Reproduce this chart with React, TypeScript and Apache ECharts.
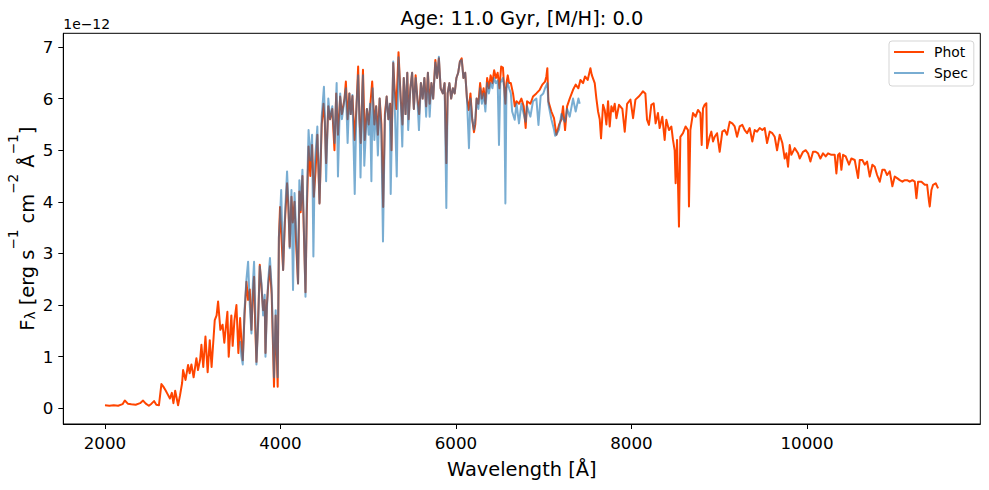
import React, { useEffect, useRef } from 'react';
import * as echarts from 'echarts';

// Photometric model spectrum: wavelength [Å] and flux [1e-12 erg s^-1 cm^-2 Å^-1]
const photWave = [
  2000, 2050, 2100, 2150, 2200, 2226, 2260, 2300, 2350, 2400,
  2434, 2465, 2500, 2530, 2559, 2585, 2615, 2643, 2665, 2690,
  2715, 2740, 2762, 2780, 2800, 2833, 2855, 2879, 2890, 2918,
  2947, 2965, 2985, 3010, 3042, 3060, 3085, 3099, 3120, 3145,
  3170, 3194, 3215, 3251, 3272, 3289, 3315, 3340, 3360, 3395,
  3410, 3440, 3455, 3475, 3498, 3520, 3540, 3555, 3570, 3590,
  3612, 3631, 3650, 3669, 3685, 3699, 3712, 3726, 3745, 3764,
  3785, 3802, 3820, 3829, 3845, 3859, 3880, 3900, 3926, 3945,
  3968, 3982, 3995, 4005, 4030, 4050, 4075, 4090, 4105, 4125,
  4140, 4160, 4175, 4200, 4215, 4230, 4250, 4265, 4285, 4300,
  4320, 4340, 4360, 4380, 4400, 4420, 4445, 4470, 4490, 4505,
  4520, 4545, 4565, 4590, 4615, 4635, 4655, 4680, 4700, 4730,
  4745, 4765, 4785, 4800, 4820, 4845, 4865, 4885, 4900, 4915,
  4930, 4940, 4960, 4985, 5005, 5025, 5045, 5070, 5090, 5110,
  5130, 5150, 5170, 5190, 5210, 5230, 5250, 5265, 5285, 5300,
  5320, 5345, 5370, 5390, 5405, 5425, 5445, 5460, 5480, 5500,
  5520, 5540, 5560, 5580, 5600, 5620, 5640, 5660, 5680, 5700,
  5720, 5740, 5765, 5785, 5805, 5825, 5850, 5870, 5890, 5905,
  5925, 5945, 5965, 5985, 6005, 6025, 6045, 6065, 6085, 6105,
  6125, 6145, 6165, 6185, 6205, 6220, 6235, 6255, 6275, 6295,
  6315, 6335, 6355, 6375, 6395, 6415, 6435, 6455, 6475, 6495,
  6515, 6535, 6550, 6563, 6575, 6590, 6605, 6625, 6650, 6670,
  6690, 6718, 6745, 6772, 6794, 6810, 6848, 6878, 6916, 6954,
  6984, 7015, 7030, 7041, 7053, 7087, 7117, 7144, 7174, 7201,
  7220, 7243, 7266, 7296, 7334, 7364, 7395, 7418, 7448, 7471,
  7501, 7532, 7547, 7581, 7600, 7619, 7638, 7653, 7676, 7695,
  7714, 7733, 7752, 7771, 7790, 7809, 7828, 7858, 7896, 7923,
  7950, 7988, 8018, 8045, 8083, 8113, 8130, 8158, 8177, 8199,
  8226, 8253, 8275, 8302, 8321, 8351, 8378, 8397, 8427, 8454,
  8473, 8492, 8503, 8519, 8541, 8557, 8587, 8617, 8644, 8655,
  8671, 8701, 8731, 8758, 8785, 8800, 8815, 8834, 8853, 8861,
  8891, 8910, 8929, 8948, 8975, 9005, 9035, 9062, 9089, 9119,
  9149, 9176, 9203, 9233, 9263, 9290, 9317, 9347, 9377, 9404,
  9431, 9461, 9491, 9518, 9545, 9575, 9605, 9632, 9659, 9689,
  9719, 9746, 9765, 9784, 9803, 9822, 9860, 9898, 9917, 9955,
  9985, 10012, 10039, 10069, 10099, 10126, 10153, 10183, 10213, 10240,
  10278, 10316, 10335, 10354, 10373, 10392, 10411, 10441, 10479, 10506,
  10544, 10582, 10601, 10631, 10658, 10685, 10715, 10745, 10772, 10799,
  10829, 10859, 10886, 10913, 10943, 10973, 11000, 11027, 11057, 11087,
  11114, 11141, 11171, 11201, 11228, 11247, 11266, 11304, 11342, 11369,
  11391, 11399, 11418, 11437, 11467, 11494,
];
const photFlux = [
  0.06, 0.05, 0.06, 0.05, 0.08, 0.15, 0.09, 0.08, 0.07, 0.10,
  0.15, 0.09, 0.05, 0.09, 0.14, 0.07, 0.06, 0.47, 0.42, 0.35,
  0.27, 0.19, 0.30, 0.10, 0.34, 0.06, 0.25, 0.49, 0.74, 0.55,
  0.84, 0.68, 0.85, 0.60, 0.97, 0.74, 0.95, 1.23, 0.80, 1.39,
  0.70, 1.32, 0.80, 1.71, 1.80, 2.07, 1.52, 1.62, 1.27, 1.87,
  1.00, 1.80, 1.21, 1.70, 2.00, 1.07, 1.75, 1.30, 0.93, 1.80,
  2.45, 2.10, 2.30, 1.52, 2.20, 2.55, 1.60, 0.90, 1.70, 2.78,
  2.30, 1.90, 2.10, 1.07, 2.00, 2.36, 2.75, 2.20, 0.42, 1.80,
  0.42, 3.30, 3.90, 3.50, 2.68, 3.60, 4.36, 3.90, 3.13, 4.10,
  3.60, 4.00, 3.30, 2.42, 4.20, 3.80, 4.50, 3.50, 2.25, 3.80,
  5.07, 4.50, 5.10, 4.10, 4.60, 5.30, 3.97, 5.50, 5.90, 5.55,
  4.75, 5.85, 5.60, 5.80, 5.00, 6.10, 5.30, 6.04, 5.70, 6.00,
  6.33, 5.60, 6.10, 5.70, 6.05, 5.20, 5.80, 6.62, 5.60, 5.14,
  6.00, 6.56, 5.20, 5.80, 5.50, 5.90, 6.33, 5.50, 5.85, 5.30,
  6.00, 5.50, 3.90, 5.70, 6.04, 5.60, 5.90, 5.00, 6.69, 6.20,
  5.80, 6.90, 6.00, 5.50, 6.40, 5.70, 6.50, 5.60, 6.20, 6.50,
  5.80, 6.45, 6.00, 5.70, 6.30, 6.00, 6.40, 5.85, 6.50, 5.90,
  6.30, 6.00, 6.75, 6.40, 6.78, 6.20, 6.10, 6.30, 4.75, 6.10,
  6.30, 6.00, 6.20, 6.10, 6.40, 6.50, 6.72, 6.78, 6.40, 6.50,
  6.00, 5.78, 6.10, 5.60, 5.35, 5.50, 6.00, 5.90, 6.30, 6.00,
  6.20, 5.90, 6.40, 6.20, 6.45, 6.30, 6.55, 6.40, 6.50, 6.20,
  6.62, 6.60, 6.20, 5.90, 6.30, 6.45, 6.30, 6.30, 6.10, 5.85,
  5.95, 5.90, 6.00, 5.85, 5.43, 5.95, 5.90, 6.04, 6.10, 6.17,
  6.27, 6.33, 6.43, 6.59, 5.95, 5.75, 5.62, 5.30, 5.49, 5.60,
  5.85, 5.39, 5.85, 6.00, 6.17, 6.27, 6.20, 6.36, 6.30, 6.43,
  6.36, 6.59, 6.46, 6.30, 6.00, 5.75, 5.60, 5.23, 5.88, 5.78,
  5.50, 5.95, 5.46, 5.85, 5.75, 5.90, 5.62, 5.88, 5.80, 5.36,
  5.90, 5.98, 5.62, 5.98, 6.04, 6.10, 6.14, 6.10, 5.59, 5.49,
  5.88, 5.91, 5.52, 5.72, 5.43, 5.65, 5.20, 5.59, 5.39, 5.46,
  5.20, 5.00, 4.36, 5.20, 3.52, 5.26, 5.33, 5.46, 5.39, 3.91,
  5.39, 5.72, 5.65, 5.78, 5.72, 5.10, 5.81, 5.88, 5.91, 5.04,
  5.26, 5.36, 5.17, 5.26, 5.33, 4.97, 5.36, 5.39, 5.30, 5.55,
  5.52, 5.46, 5.26, 5.46, 5.49, 5.39, 5.33, 5.43, 5.17, 5.39,
  5.36, 5.43, 5.39, 5.43, 5.14, 5.36, 5.33, 5.26, 5.00, 5.30,
  5.14, 4.84, 4.94, 4.68, 5.10, 4.91, 5.04, 4.94, 4.84, 4.97,
  5.00, 4.94, 4.78, 4.97, 4.97, 4.94, 4.84, 4.94, 4.88, 4.94,
  4.91, 4.91, 4.55, 4.91, 4.94, 4.62, 4.91, 4.88, 4.72, 4.84,
  4.81, 4.46, 4.81, 4.81, 4.72, 4.78, 4.49, 4.72, 4.68, 4.52,
  4.39, 4.62, 4.62, 4.52, 4.59, 4.30, 4.49, 4.46, 4.42, 4.39,
  4.42, 4.42, 4.39, 4.42, 4.39, 4.07, 4.39, 4.39, 4.33, 4.33,
  4.00, 3.91, 4.23, 4.33, 4.36, 4.26,
];

// Spectroscopic model spectrum (same units), covering the optical range only
const specWave = [
  3540, 3555, 3570, 3590, 3612, 3631, 3650, 3669, 3685, 3699,
  3712, 3726, 3745, 3764, 3785, 3802, 3820, 3829, 3845, 3859,
  3880, 3900, 3926, 3945, 3968, 3982, 3995, 4008, 4030, 4050,
  4075, 4090, 4105, 4125, 4143, 4160, 4175, 4200, 4215, 4230,
  4250, 4265, 4285, 4300, 4320, 4340, 4360, 4375, 4390, 4420,
  4445, 4470, 4495, 4505, 4520, 4545, 4565, 4590, 4617, 4625,
  4640, 4655, 4680, 4700, 4730, 4745, 4765, 4785, 4800, 4820,
  4846, 4865, 4885, 4900, 4912, 4930, 4940, 4955, 4985, 5005,
  5020, 5036, 5050, 5070, 5090, 5110, 5130, 5150, 5168, 5190,
  5210, 5230, 5245, 5256, 5270, 5285, 5300, 5325, 5345, 5370,
  5388, 5405, 5425, 5445, 5455, 5480, 5500, 5520, 5540, 5560,
  5578, 5600, 5620, 5640, 5660, 5680, 5700, 5720, 5740, 5765,
  5785, 5805, 5825, 5850, 5870, 5890, 5905, 5925, 5945, 5965,
  5985, 6005, 6025, 6045, 6065, 6085, 6105, 6125, 6148, 6165,
  6185, 6205, 6220, 6235, 6255, 6275, 6295, 6315, 6335, 6355,
  6375, 6395, 6415, 6435, 6455, 6475, 6490, 6505, 6535, 6550,
  6563, 6575, 6590, 6605, 6625, 6640, 6669, 6690, 6718, 6745,
  6772, 6794, 6810, 6848, 6878, 6916, 6940, 6965, 6995, 7015,
  7041, 7053, 7087, 7117, 7130, 7144, 7174, 7201, 7220, 7243,
  7266, 7296, 7334, 7364, 7395, 7410,
];
const specFlux = [
  1.30, 1.00, 0.85, 1.90, 2.50, 2.84, 2.00, 1.45, 2.40, 2.84,
  1.90, 0.85, 1.60, 2.75, 2.40, 1.80, 2.20, 1.00, 1.90, 2.45,
  2.91, 2.30, 0.60, 1.90, 0.60, 3.33, 3.71, 4.23, 2.68, 3.70,
  4.59, 4.00, 3.10, 4.23, 2.29, 4.17, 3.60, 2.42, 4.42, 3.84,
  4.62, 3.60, 2.16, 4.00, 5.39, 4.80, 5.30, 2.94, 4.70, 5.46,
  3.97, 5.65, 6.23, 5.70, 4.40, 6.00, 5.60, 5.85, 5.14, 5.60,
  6.30, 4.49, 6.10, 5.60, 6.00, 6.20, 5.14, 6.10, 5.70, 6.07,
  4.15, 5.80, 6.45, 5.60, 4.47, 6.00, 6.45, 4.70, 5.80, 5.30,
  5.90, 4.40, 6.20, 5.20, 5.85, 4.90, 6.00, 5.30, 3.23, 5.60,
  6.04, 5.60, 5.90, 4.15, 5.50, 6.72, 6.00, 4.49, 6.80, 6.00,
  5.07, 6.40, 5.70, 6.50, 5.39, 6.20, 6.50, 5.80, 6.40, 6.00,
  5.39, 6.30, 6.00, 6.40, 5.65, 6.50, 5.65, 6.30, 6.00, 6.70,
  6.40, 6.81, 6.20, 6.10, 6.30, 3.88, 6.10, 6.30, 6.00, 6.20,
  6.10, 6.40, 6.50, 6.72, 6.75, 6.40, 6.50, 6.00, 5.04, 6.00,
  5.60, 5.40, 5.60, 6.00, 5.80, 6.20, 5.90, 6.10, 5.75, 6.30,
  6.10, 6.30, 6.20, 6.40, 6.30, 6.35, 5.10, 6.30, 6.40, 6.20,
  3.97, 6.20, 6.30, 6.20, 6.10, 5.75, 5.59, 5.90, 5.52, 5.90,
  5.70, 5.55, 5.85, 5.65, 5.95, 6.00, 5.49, 6.05, 6.10, 6.20,
  6.30, 5.90, 5.60, 5.40, 5.28, 5.30, 5.40, 5.70, 5.60, 5.55,
  5.80, 5.65, 6.00, 5.75, 6.00, 5.90,
];

const xTicks = [2000, 4000, 6000, 8000, 10000];
const yTicks = [0, 1, 2, 3, 4, 5, 6, 7];

const FONT = 'DejaVu Sans';
const PHOT_COLOR = '#FF4500';
const SPEC_COLOR = '#1f77b4';
// Thin horizontal bar used as the legend handle for both line series
const LINE_ICON = 'path://M0,0H30V2H0Z';

export default function App() {
  const ref = useRef<HTMLDivElement>(null);

  useEffect(() => {
    if (!ref.current) return;
    const chart = echarts.init(ref.current, null, { renderer: 'svg' });
    const phot = photWave.map((w, i) => [w, photFlux[i]]);
    const spec = specWave.map((w, i) => [w, specFlux[i]]);

    const sup = { fontSize: 13.6, fontFamily: FONT, lineHeight: 14, padding: [0, 0, 17, 0] };
    const sub = { fontSize: 13.6, fontFamily: FONT, lineHeight: 14, padding: [17, 0, 0, 0] };
    const base = { fontSize: 19.4, fontFamily: FONT, lineHeight: 20, padding: [11, 0, 0, 0] };

    chart.setOption({
      animation: false,
      backgroundColor: '#ffffff',
      textStyle: { fontFamily: FONT },
      grid: {
        left: 63.3,
        right: 8.7,
        top: 33.3,
        bottom: 66,
        show: true,
        borderColor: '#000',
        borderWidth: 1,
        backgroundColor: 'transparent',
        containLabel: false,
      },
      xAxis: {
        type: 'value',
        min: 1525,
        max: 11975,
        axisLine: { show: true, onZero: false, lineStyle: { color: '#000', width: 1 } },
        axisTick: { show: true, length: 5, lineStyle: { color: '#000', width: 1 }, customValues: xTicks },
        axisLabel: {
          customValues: xTicks,
          margin: 10,
          color: '#000',
          fontSize: 16.7,
          fontFamily: FONT,
          formatter: (v: number) => String(v),
        },
        splitLine: { show: false },
      },
      yAxis: {
        type: 'value',
        min: -0.304,
        max: 7.265,
        axisLine: { show: true, onZero: false, lineStyle: { color: '#000', width: 1 } },
        axisTick: { show: true, length: 5, lineStyle: { color: '#000', width: 1 }, customValues: yTicks },
        axisLabel: {
          customValues: yTicks,
          margin: 10,
          color: '#000',
          fontSize: 16.7,
          fontFamily: FONT,
          formatter: (v: number) => String(v),
        },
        splitLine: { show: false },
      },
      legend: {
        orient: 'vertical',
        left: 889,
        top: 41,
        padding: [4, 6, 6, 5],
        itemGap: 7,
        itemWidth: 30,
        itemHeight: 14,
        backgroundColor: 'rgba(255,255,255,0.8)',
        borderColor: '#d5d5d5',
        borderWidth: 1,
        borderRadius: 3,
        selectedMode: false,
        textStyle: { fontFamily: FONT, fontSize: 13.9, color: '#000', padding: [0, 0, 0, 5] },
        data: [
          { name: 'Phot', icon: LINE_ICON, itemStyle: { color: PHOT_COLOR } },
          { name: 'Spec', icon: LINE_ICON, itemStyle: { color: SPEC_COLOR, opacity: 0.6 } },
        ],
      },
      series: [
        {
          name: 'Phot',
          type: 'line',
          data: phot,
          showSymbol: false,
          symbol: 'none',
          silent: true,
          lineStyle: { color: PHOT_COLOR, width: 2, join: 'round' },
          itemStyle: { color: PHOT_COLOR },
        },
        {
          name: 'Spec',
          type: 'line',
          data: spec,
          showSymbol: false,
          symbol: 'none',
          silent: true,
          lineStyle: { color: SPEC_COLOR, width: 2, opacity: 0.6, join: 'round' },
          itemStyle: { color: SPEC_COLOR, opacity: 0.6 },
        },
      ],
      graphic: [
        {
          type: 'text',
          x: 521.8,
          y: 18.3,
          style: {
            text: 'Age: 11.0 Gyr, [M/H]: 0.0',
            fontSize: 19.4,
            fontFamily: FONT,
            fill: '#000',
            align: 'center',
            verticalAlign: 'middle',
          },
        },
        {
          type: 'text',
          x: 63.3,
          y: 24.2,
          style: {
            text: '1e\u221212',
            fontSize: 13.9,
            fontFamily: FONT,
            fill: '#000',
            align: 'left',
            verticalAlign: 'middle',
          },
        },
        {
          type: 'text',
          x: 521.8,
          y: 469.3,
          style: {
            text: 'Wavelength [Å]',
            fontSize: 19.4,
            fontFamily: FONT,
            fill: '#000',
            align: 'center',
            verticalAlign: 'middle',
          },
        },
        {
          type: 'text',
          x: 21.8,
          y: 228.7,
          rotation: Math.PI / 2,
          style: {
            text: '{n|F}{sub|λ}{n| [erg s}{sup|\u22121}{n| cm}{sup|\u22122}{n| Å}{sup|\u22121}{n|]}',
            rich: { n: base, sup, sub },
            fill: '#000',
            align: 'center',
            verticalAlign: 'middle',
          },
        },
      ],
    });

    return () => chart.dispose();
  }, []);

  return (
    <div
      ref={ref}
      style={{ position: 'fixed', left: 0, top: 0, width: 989, height: 490, background: '#fff' }}
    />
  );
}
